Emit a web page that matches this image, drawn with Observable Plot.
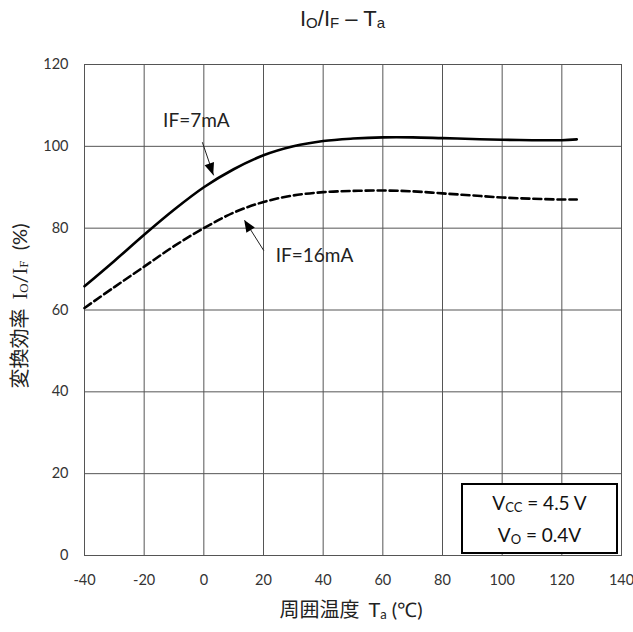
<!DOCTYPE html>
<html><head><meta charset="utf-8">
<script src="https://cdn.jsdelivr.net/npm/d3@7"></script>
<script src="https://cdn.jsdelivr.net/npm/@observablehq/plot@0.6"></script>
<style>
body{margin:0;background:#fff;}
#title{height:40px;font-family:"Liberation Sans",Arial,sans-serif;font-size:22px;color:#222;text-align:center;padding-left:52px;box-sizing:border-box;line-height:38px;}
#title .s{font-size:15px;vertical-align:-2px;}
</style></head><body>
<div id="title">I<span class="s">O</span>/I<span class="s">F</span> – T<span class="s">a</span></div>
<div id="chart"></div>
<script>
const temps = [-40,-30,-20,-10,0,10,20,30,40,50,60,70,80,90,100,110,120,125];
const if7   = [65.8,72,78.4,84.5,90,94.4,97.8,100,101.3,101.9,102.2,102.2,102,101.8,101.6,101.5,101.5,101.7];
const if16  = [60.5,65.6,70.6,75.6,80,83.8,86.4,88,88.8,89.1,89.2,89,88.5,88,87.5,87.2,87,87];
const xTicks = [-40,-20,0,20,40,60,80,100,120,140];
const yTicks = [0,20,40,60,80,100,120];
const labelText = ["IF=7mA","IF=16mA"];
const labelX = [-2.5,37.1];
const labelY = [106.3,73.3];
const arrowX1 = [-0.5,20.1], arrowY1 = [101,74.5];
const arrowX2 = [3.3,13.7],  arrowY2 = [92.9,81.9];

const rows7 = temps.map((t,i)=>({t, v:if7[i]}));
const rows16 = temps.map((t,i)=>({t, v:if16[i]}));
const labels = labelText.map((text,i)=>({text, x:labelX[i], y:labelY[i]}));
const arrows = arrowX1.map((x1,i)=>({x1, y1:arrowY1[i], x2:arrowX2[i], y2:arrowY2[i]}));

const plot = Plot.plot({
  width:633, height:592,
  marginLeft:84, marginRight:12, marginTop:24, marginBottom:77,
  style:{fontFamily:"Lato, sans-serif", fontSize:"14.5px", color:"#333", background:"#fff", overflow:"visible"},
  x:{domain:[-40,140], ticks:xTicks, tickFormat:d=>String(d), tickSize:0, tickPadding:19, label:null},
  y:{domain:[0,120], ticks:yTicks, tickFormat:d=>String(d), tickSize:0, tickPadding:16, label:null},
  marks:[
    Plot.ruleX(xTicks,{stroke:"#555", strokeWidth:1}),
    Plot.ruleY(yTicks,{stroke:"#555", strokeWidth:1}),
    Plot.frame({stroke:"#555"}),
    Plot.line(rows7,{x:"t", y:"v", curve:"catmull-rom", stroke:"#000", strokeWidth:2.6}),
    Plot.line(rows16,{x:"t", y:"v", curve:"catmull-rom", stroke:"#000", strokeWidth:2.6, strokeDasharray:"8,4"}),
    Plot.link(arrows,{x1:"x1", y1:"y1", x2:"x2", y2:"y2", stroke:"#222", strokeWidth:1}),
    Plot.text(labels,{x:"x", y:"y", text:"text", fontSize:19, fill:"#222", fontFamily:"Lato, sans-serif"})
  ]
});
document.getElementById("chart").appendChild(plot);

const sx = plot.scale("x"), sy = plot.scale("y");
const svg = d3.select(plot);
// filled arrowheads
arrows.forEach(a=>{
  const x1=sx.apply(a.x1), y1=sy.apply(a.y1), x2=sx.apply(a.x2), y2=sy.apply(a.y2);
  const L=Math.hypot(x2-x1,y2-y1), ux=(x2-x1)/L, uy=(y2-y1)/L;
  const len=12, hw=5;
  const bx=x2-ux*len, by=y2-uy*len;
  svg.append("polygon")
    .attr("points",`${x2},${y2} ${bx-uy*hw},${by+ux*hw} ${bx+uy*hw},${by-ux*hw}`)
    .attr("fill","#000");
});
// y label
const yl = svg.append("text")
  .attr("transform","translate(22,266) rotate(-90)")
  .attr("text-anchor","middle").attr("dominant-baseline","middle")
  .attr("fill","#222").style("font-size","20px").style("font-family","'Noto Sans CJK JP', sans-serif");
yl.append("tspan").text("変換効率  ");
yl.append("tspan").style("font-family","'Liberation Serif', serif").text("I");
yl.append("tspan").style("font-family","'Liberation Serif', serif").style("font-size","13px").attr("dy",3).text("O");
yl.append("tspan").attr("dy",-3).style("font-family","Lato, sans-serif").text("/");
yl.append("tspan").style("font-family","'Liberation Serif', serif").text("I");
yl.append("tspan").style("font-family","'Liberation Serif', serif").style("font-size","13px").attr("dy",3).text("F");
yl.append("tspan").attr("dy",-3).style("font-family","Lato, sans-serif").text("  (%)");
// x label
const xl = svg.append("text")
  .attr("x",351).attr("y",572)
  .attr("text-anchor","middle").attr("dominant-baseline","middle")
  .attr("fill","#222").style("font-size","20px").style("font-family","'Noto Sans CJK JP', sans-serif");
xl.append("tspan").text("周囲温度  ");
xl.append("tspan").style("font-family","Lato, sans-serif").text("T");
xl.append("tspan").style("font-family","Lato, sans-serif").style("font-size","13px").attr("dy",4).text("a");
xl.append("tspan").style("font-family","Lato, sans-serif").attr("dy",-4).text(" (℃)");
// condition box
const bxl=462, byt=444, bw=155, bh=69;
svg.append("rect").attr("x",bxl).attr("y",byt).attr("width",bw).attr("height",bh)
  .attr("fill","#fff").attr("stroke","#000").attr("stroke-width",2);
function boxLine(y, main, sub, rest){
  const t = svg.append("text").attr("x",bxl+bw/2).attr("y",y)
    .attr("text-anchor","middle").attr("dominant-baseline","middle")
    .attr("fill","#111").style("font-size","19px").style("font-family","Lato, sans-serif");
  t.append("tspan").text(main);
  t.append("tspan").style("font-size","13px").attr("dy",4).text(sub);
  t.append("tspan").attr("dy",-4).text(rest);
}
boxLine(465,"V","CC"," = 4.5 V");
boxLine(497,"V","O"," = 0.4V");
</script>
</body></html>
